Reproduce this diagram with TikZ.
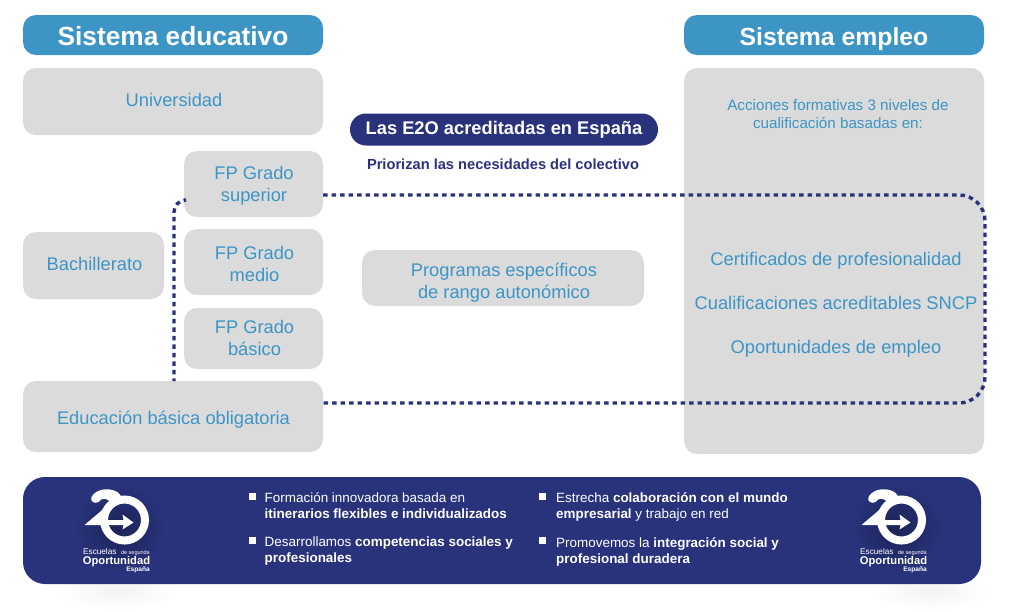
\documentclass[tikz,border=0pt]{standalone}
\usepackage{fontspec}
\setmainfont{Liberation Sans}
\usetikzlibrary{calc}
\definecolor{azul}{HTML}{3D95C6}
\definecolor{marino}{HTML}{28337C}
\definecolor{gris}{HTML}{DBDBDB}
\tikzset{
	cajagris/.style={fill=gris, rounded corners=13, inner sep=0, outer sep=0},
	cajatitulo/.style={fill=azul, rounded corners=13, text=white, inner sep=0, outer sep=0, minimum width=300, minimum height=40, text height=20, text depth=0, font=\fontsize{26.3}{30}\bfseries\selectfont},
	textoazul/.style={text=azul, align=center, inner sep=0, font=\fontsize{18.3}{22}\selectfont},
	textobanda/.style={text=white, align=left, anchor=north west, inner sep=0, font=\fontsize{13.45}{16}\selectfont},
	vineta/.style={fill=white, inner sep=0, minimum size=7},
	punteado/.style={draw=marino, line width=3.4, dash pattern=on 4.5 off 4},
	logotexto/.style={text=white, inner sep=0}
}
% logo de la banda: (origen en el centro del anillo)(prefijo de nombres)
\def\logoescuela(#1)(#2){
	\begin{scope}[shift={(#1)}]
		\shade[inner color=black!30!marino, outer color=marino] (-5, 8) circle (46);
		\draw[white, line width=8] (0, 0) circle (20.5);
		\fill[white] (-33, -23) .. controls (-29, -30) and (-20, -32) .. (-12, -30) .. controls (-8, -29) and (-5, -27) .. (-3, -23)
			-- (-24, -2) -- (-20, 0) -- (2, 0) -- (2, 5) -- (-40, 5) -- (-14, -17) .. controls (-16, -22) and (-23, -23) .. (-26, -18)
			.. controls (-29, -16) and (-35, -18) .. (-33, -23) -- cycle;
		\fill[white] (-2, -5.5) -- (9, 2.5) -- (-2, 9.5) -- (-0.5, 2.5) -- cycle;
		\node[logotexto, anchor=base west, font=\fontsize{8.2}{8}\selectfont] (#2a) at (-41.5, 34.5) {Escuelas};
		\node[logotexto, anchor=base east, font=\fontsize{5.5}{5}\selectfont] (#2b) at (25.5, 34.5) {de segunda};
		\node[logotexto, anchor=base, font=\fontsize{11.2}{12}\bfseries\selectfont] (#2c) at (-8, 44.5) {Oportunidad};
		\node[logotexto, anchor=base east, font=\fontsize{6.6}{7}\bfseries\selectfont] (#2d) at (25.5, 51.5) {España};
	\end{scope}
}

\begin{document}
\begin{tikzpicture}[x=1pt, y=-1pt]
	%%%%% fondo %%%%%
	\useasboundingbox (0, 0) rectangle (1024, 611);
	\shade[inner color=black!5, outer color=white] (118, 590) ellipse (60 and 20);
	\shade[inner color=black!5, outer color=white] (930, 590) ellipse (60 and 20);

	%%%%% sistema educativo %%%%%
	\node[cajatitulo] (educativo) at (173, 35) {Sistema educativo};
	\node[cajagris, minimum width=300, minimum height=67] (universidad) at (173, 101.5) {};
	\node[textoazul] (universidadtx) at (174, 99.5) {Universidad};
	\node[cajagris, minimum width=139, minimum height=66] (fpsuperior) at (253.5, 184) {};
	\node[textoazul] (fpsuperiortx) at (254, 186) {FP Grado\\superior};
	\node[cajagris, minimum width=139, minimum height=66] (fpmedio) at (253.5, 262) {};
	\node[textoazul] (fpmediotx) at (254.5, 264) {FP Grado\\medio};
	\node[cajagris, minimum width=139, minimum height=61] (fpbasico) at (253.5, 338.5) {};
	\node[textoazul] (fpbasicotx) at (254.5, 338) {FP Grado\\básico};
	\node[cajagris, minimum width=141, minimum height=67] (bachillerato) at (93.5, 265.5) {};
	\node[textoazul] (bachilleratotx) at (94.5, 264) {Bachillerato};
	\node[cajagris, minimum width=300, minimum height=71] (obligatoria) at (173, 416.5) {};
	\node[textoazul] (obligatoriatx) at (173.5, 419.5) {Educación básica obligatoria};

	%%%%% centro %%%%%
	\node[fill=marino, rounded corners=16, text=white, inner sep=0, minimum width=308, minimum height=32, font=\fontsize{18.3}{20}\bfseries\selectfont] (acreditadas) at (504, 129.5) {Las E2O acreditadas en España};
	\node[text=marino, inner sep=0, font=\fontsize{14.65}{16}\bfseries\selectfont] (priorizan) at (503, 164) {Priorizan las necesidades del colectivo};
	\node[cajagris, minimum width=282, minimum height=56] (programas) at (503, 278) {};
	\node[textoazul] (programastx) at (504, 282.5) {Programas específicos\\de rango autonómico};

	%%%%% sistema empleo %%%%%
	\node[cajatitulo, font=\fontsize{24.8}{30}\bfseries\selectfont] (empleo) at (834, 35) {Sistema empleo};
	\node[cajagris, minimum width=300, minimum height=386] (acciones) at (834, 261) {};
	\node[textoazul, font=\fontsize{15.2}{18.5}\selectfont] (niveles) at (838, 114) {Acciones formativas 3 niveles de\\cualificación basadas en:};
	\node[textoazul] (certificados) at (836, 260.5) {Certificados de profesionalidad};
	\node[textoazul] (cualificaciones) at (836, 303) {Cualificaciones acreditables SNCP};
	\node[textoazul] (oportunidades) at (836, 348.5) {Oportunidades de empleo};

	%%%%% punteados %%%%%
	\coordinate (esquinasup) at (985, 195);
	\coordinate (esquinainf) at (985, 403);
	\coordinate (esquinaizq) at (174, 200);
	\draw[punteado, rounded corners=26] ($(fpsuperior.east)+(0, 11)$) -- (esquinasup) -- (esquinainf) -- ($(obligatoria.east)+(0, -13.5)$);
	\draw[punteado, rounded corners=12] ($(fpsuperior.west)+(0, 16)$) -- (esquinaizq) -- (esquinaizq |- obligatoria.north);

	%%%%% banda inferior %%%%%
	\node[fill=marino, rounded corners=22, inner sep=0, minimum width=958, minimum height=107] (banda) at (502, 530.5) {};
	\logoescuela(124.5, 520)(izq)
	\logoescuela(901.5, 520)(der)

	\node[vineta] (vineta1) at (252, 496) {};
	\node[textobanda] (texto1) at (264.5, 492) {Formación innovadora basada en\\\textbf{itinerarios flexibles e individualizados}};
	\node[vineta] (vineta2) at (252, 540) {};
	\node[textobanda] (texto2) at (264.5, 537) {Desarrollamos \textbf{competencias sociales y}\\\textbf{profesionales}};
	\node[vineta] (vineta3) at (542, 496) {};
	\node[textobanda] (texto3) at (556, 492) {Estrecha \textbf{colaboración con el mundo}\\\textbf{empresarial} y trabajo en red};
	\node[vineta] (vineta4) at (542, 540) {};
	\node[textobanda] (texto4) at (556, 537) {Promovemos la \textbf{integración social y}\\\textbf{profesional duradera}};
\end{tikzpicture}
\end{document}
